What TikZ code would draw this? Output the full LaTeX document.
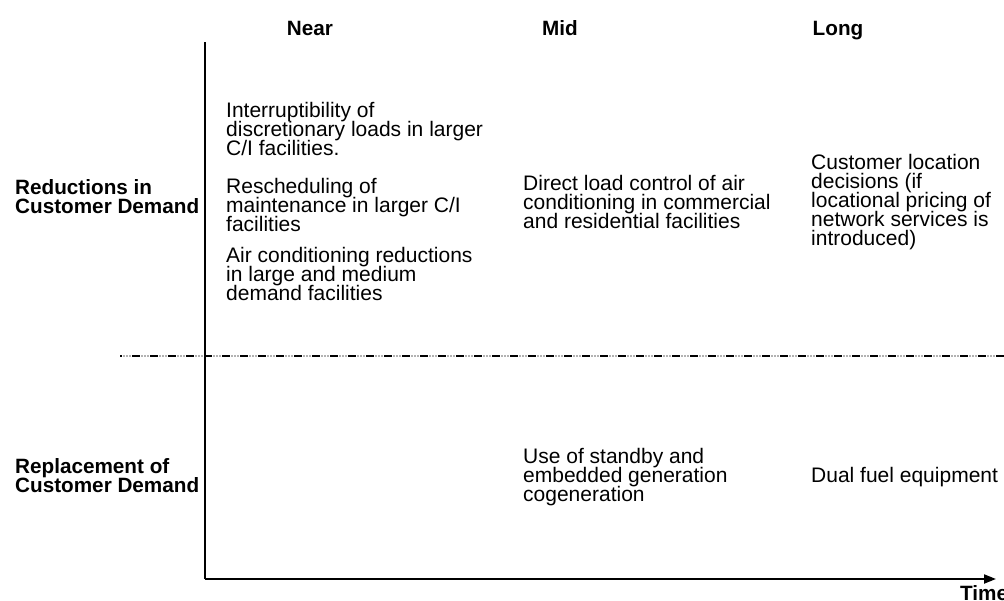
\documentclass[tikz,border=0pt]{standalone}
\usepackage{fontspec}
\setmainfont{Liberation Sans}
\usetikzlibrary{arrows.meta}
\begin{document}
\begin{tikzpicture}[x=1pt,y=-1pt,
  body/.style={anchor=base west,inner sep=0pt,align=left,font={\fontsize{21}{19}\selectfont\lineskiplimit=-20pt}},
  head/.style={anchor=base,inner sep=0pt,font=\fontsize{20.7}{19}\selectfont\bfseries},
  side/.style={anchor=base west,inner sep=0pt,align=left,font={\fontsize{20.7}{19}\selectfont\bfseries\lineskiplimit=-20pt}},
  axis/.style={line width=2pt}]
\useasboundingbox (0,0) rectangle (1004,601);
\coordinate (top) at (205,42);
\coordinate (origin) at (205,579);
\coordinate (tend) at (996,579);
\coordinate (dl) at (120,356);
\coordinate (dr) at (1004,356);
\draw[axis] (origin) -- (top);
\draw[axis,-{Triangle[length=12pt,width=9pt]}] (origin) -- (tend);
\draw[line width=1.6pt,gray!60,dash pattern=on 1.5pt off 1.5pt] (dl) -- (dr);
\draw[line width=2pt,dash pattern=on 8pt off 10pt,dash phase=-12pt] (dl) -- (dr);
\node[head] (near) at (310,36) {Near};
\node[head] (mid) at (560,36) {Mid};
\node[head] (long) at (838,36) {Long};
\node[anchor=base west,inner sep=0pt,font=\fontsize{20.7}{19}\selectfont\bfseries] (time) at (960,600) {Time};
\node[side] (red) at (15,214) {Reductions in\\Customer Demand};
\node[side] (rep) at (15,492) {Replacement of\\Customer Demand};
\node[body] (n1) at (226,156) {Interruptibility of\\discretionary loads in larger\\C/I facilities.};
\node[body] (n2) at (226,232) {Rescheduling of\\maintenance in larger C/I\\facilities};
\node[body] (n3) at (226,301) {Air conditioning reductions\\in large and medium\\demand facilities};
\node[body] (m1) at (523,229) {Direct load control of air\\conditioning in commercial\\and residential facilities};
\node[body] (l1) at (811,246) {Customer location\\decisions (if\\locational pricing of\\network services is\\introduced)};
\node[body] (m2) at (523,501) {Use of standby and\\embedded generation\\cogeneration};
\node[body] (l2) at (811,482) {Dual fuel equipment};
\end{tikzpicture}
\end{document}
